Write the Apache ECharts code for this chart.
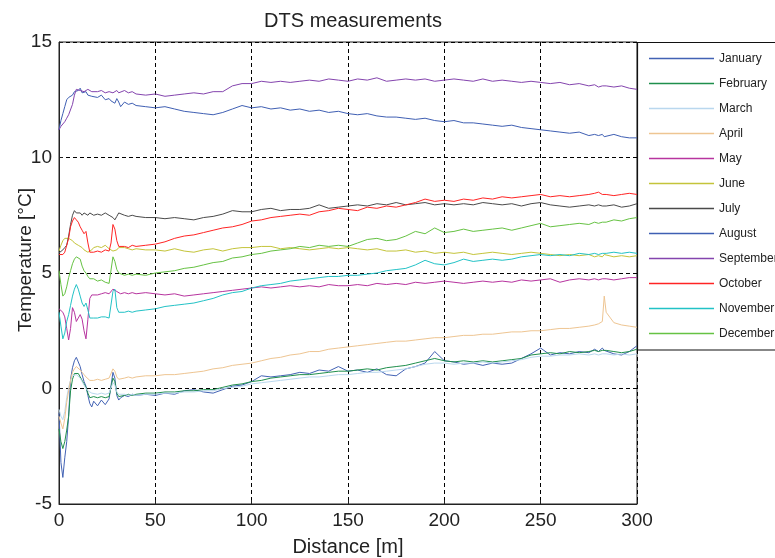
<!DOCTYPE html>
<html><head><meta charset="utf-8">
<script src="https://cdn.jsdelivr.net/npm/echarts@6/dist/echarts.min.js"></script>
<style>html,body{margin:0;padding:0;background:#fff}#c{width:775px;height:558px}</style>
</head><body><div id="c"></div>
<script>
// Distance along the cable [m]
const distance = [0,1,2,3,4,5,6,7,8,9,10,11,12,13,14,15,16,17,18,
  20,22,24,26,27,28,29,30,31,32,34,36,38,40,
  45,50,55,60,65,70,75,80,85,90,95,100,105,110,115,120,
  125,130,135,140,145,150,155,160,165,170,175,180,185,190,195,200,
  205,210,215,220,225,230,235,240,245,250,255,260,265,270,275,
  278,280,282,283,284,288,292,296,300];

const months = ['January','February','March','April','May','June','July','August','September','October','November','December'];
const monthColors = ['#4262b4','#1f8f4c','#b9d7ee','#eec592','#b7349f','#c4c43a','#4a4a4a','#3f5fb3','#8444ae','#ff2424','#22c2c6','#66c243'];

const january = [-1.05,-3.2,-3.85,-3.0,-2.3,-1.2,0.4,0.9,1.2,1.35,1.15,0.95,0.6,0.3,0.1,-0.3,-0.65,-0.8,-0.55,
  -0.75,-0.5,-0.7,-0.45,-0.4,0.7,0.45,-0.3,-0.5,-0.4,-0.3,-0.35,-0.25,-0.3,
  -0.25,-0.3,-0.2,-0.25,-0.1,-0.05,-0.15,-0.2,-0.05,0.1,0.15,0.3,0.55,0.5,0.55,0.6,
  0.7,0.65,0.8,0.75,0.95,0.75,0.8,0.7,0.85,0.6,0.55,0.85,0.95,1.1,1.6,1.2,
  1.15,1.05,1.1,1.0,1.1,1.05,1.1,1.3,1.5,1.75,1.45,1.55,1.5,1.6,1.55,
  1.7,1.6,1.75,1.65,1.7,1.5,1.45,1.6,1.85];
const february = [-1.75,-2.3,-2.6,-2.3,-1.8,-1.2,-0.1,0.4,0.65,0.7,0.65,0.6,0.35,0.2,0.05,-0.2,-0.4,-0.45,-0.35,
  -0.4,-0.35,-0.4,-0.35,-0.3,0.45,0.3,-0.2,-0.35,-0.3,-0.3,-0.25,-0.3,-0.25,
  -0.2,-0.2,-0.15,-0.15,-0.1,-0.1,-0.05,-0.05,0.05,0.15,0.2,0.3,0.35,0.45,0.5,0.55,
  0.6,0.6,0.65,0.7,0.75,0.75,0.8,0.85,0.8,0.9,0.95,1.0,1.1,1.2,1.3,1.2,
  1.15,1.2,1.15,1.2,1.15,1.2,1.25,1.3,1.45,1.5,1.55,1.5,1.6,1.55,1.6,
  1.65,1.6,1.65,1.6,1.65,1.6,1.55,1.6,1.7];
const march = [-0.9,-1.2,-1.35,-1.0,-0.4,0.05,0.35,0.55,0.6,0.6,0.55,0.45,0.3,0.15,0.0,-0.1,-0.15,-0.2,-0.2,
  -0.25,-0.2,-0.25,-0.2,-0.2,0.25,0.15,-0.15,-0.25,-0.25,-0.25,-0.3,-0.25,-0.3,
  -0.25,-0.25,-0.2,-0.2,-0.15,-0.15,-0.1,-0.1,0.0,0.05,0.1,0.2,0.25,0.3,0.35,0.4,
  0.45,0.5,0.5,0.55,0.6,0.6,0.65,0.7,0.7,0.75,0.8,0.85,0.95,1.05,1.1,1.1,
  1.05,1.1,1.1,1.15,1.1,1.15,1.2,1.25,1.35,1.4,1.4,1.45,1.45,1.5,1.45,
  1.5,1.45,1.5,1.45,1.5,1.45,1.5,1.45,1.5];
const april = [-1.2,-1.5,-1.75,-1.3,-0.6,-0.1,0.35,0.7,0.85,0.95,0.95,0.8,0.7,0.6,0.5,0.45,0.35,0.3,0.35,
  0.4,0.35,0.4,0.45,0.5,0.85,0.75,0.5,0.4,0.45,0.45,0.5,0.45,0.5,
  0.55,0.55,0.6,0.6,0.65,0.7,0.75,0.85,0.9,1.0,1.05,1.1,1.2,1.3,1.35,1.45,
  1.5,1.6,1.6,1.7,1.75,1.8,1.85,1.9,1.95,2.0,2.05,2.05,2.1,2.15,2.2,2.2,
  2.25,2.3,2.3,2.35,2.35,2.4,2.45,2.45,2.5,2.5,2.55,2.6,2.6,2.65,2.7,
  2.75,2.8,2.9,4.0,3.3,2.85,2.75,2.7,2.65];
const may = [3.45,3.4,3.3,3.1,2.6,2.1,2.6,3.5,3.3,2.9,2.85,3.2,3.0,2.5,2.15,3.0,3.9,4.05,4.0,
  4.05,4.1,4.15,4.1,4.15,4.3,4.25,4.2,4.15,4.1,4.15,4.1,4.15,4.1,
  4.15,4.1,4.05,4.1,4.0,4.05,4.1,4.15,4.2,4.25,4.3,4.35,4.4,4.35,4.4,4.45,
  4.4,4.45,4.4,4.5,4.45,4.45,4.5,4.45,4.55,4.5,4.55,4.5,4.6,4.55,4.6,4.65,
  4.6,4.55,4.6,4.65,4.6,4.65,4.6,4.7,4.65,4.7,4.75,4.6,4.7,4.75,4.7,
  4.75,4.7,4.75,4.7,4.75,4.7,4.75,4.8,4.8];
const june = [5.95,6.2,6.4,6.5,6.55,6.5,6.5,6.4,6.3,6.25,6.2,6.15,6.1,6.0,5.95,5.9,5.9,6.0,6.1,
  6.15,6.1,6.2,6.05,6.0,5.95,5.95,6.0,6.1,6.05,6.1,6.05,6.0,6.05,
  6.0,6.0,5.95,6.05,5.95,5.9,6.0,6.05,5.95,6.05,6.1,6.1,6.15,6.15,6.05,6.1,
  6.05,6.0,6.05,6.1,6.05,6.1,6.05,6.0,6.05,5.95,5.95,6.0,5.9,5.95,5.85,5.9,
  5.85,5.9,5.8,5.85,5.9,5.85,5.8,5.85,5.9,5.85,5.8,5.75,5.8,5.75,5.8,
  5.7,5.75,5.7,5.8,5.75,5.7,5.75,5.7,5.75];
const july = [5.87,5.95,6.0,6.1,6.2,6.6,7.1,7.5,7.7,7.6,7.55,7.6,7.5,7.6,7.55,7.5,7.6,7.55,7.5,
  7.55,7.5,7.6,7.5,7.45,7.4,7.3,7.45,7.6,7.55,7.5,7.45,7.5,7.45,
  7.4,7.4,7.35,7.4,7.35,7.3,7.4,7.45,7.55,7.7,7.65,7.65,7.75,7.8,7.7,7.75,
  7.75,7.8,7.95,7.8,7.85,7.9,7.95,7.9,8.0,7.95,8.05,7.95,8.0,8.05,7.95,8.0,
  7.95,8.0,7.95,8.05,8.0,7.95,8.0,7.9,8.0,8.05,7.95,7.9,7.85,7.9,7.95,
  7.9,7.95,7.9,7.95,7.9,7.95,7.85,7.9,8.0];
const august = [11.2,11.6,11.9,12.2,12.5,12.6,12.55,12.7,12.85,12.8,12.9,13.0,12.8,12.75,12.85,12.7,12.75,12.65,12.7,
  12.6,12.7,12.5,12.55,12.45,12.5,12.35,12.55,12.4,12.2,12.4,12.3,12.35,12.25,
  12.2,12.15,12.2,12.1,12.0,11.95,11.9,11.85,11.95,12.1,12.25,12.15,12.2,12.1,12.15,12.05,
  12.1,12.0,12.05,11.95,12.0,11.9,11.85,11.9,11.8,11.75,11.75,11.7,11.65,11.7,11.6,11.55,
  11.6,11.5,11.5,11.45,11.4,11.35,11.4,11.3,11.25,11.2,11.15,11.1,11.05,11.1,10.95,
  11.0,10.95,11.0,10.9,10.95,11.0,10.9,10.85,10.85];
const september = [11.2,11.35,11.45,11.55,11.7,11.85,11.9,12.3,12.7,12.95,12.95,12.9,12.95,12.85,12.9,12.95,12.9,12.85,12.9,
  12.85,12.9,12.8,12.85,12.9,12.8,12.85,12.9,12.8,12.85,12.9,12.8,12.85,12.75,
  12.7,12.75,12.65,12.7,12.75,12.8,12.75,12.85,12.85,13.1,13.2,13.2,13.3,13.25,13.3,13.25,
  13.3,13.35,13.3,13.4,13.35,13.3,13.4,13.35,13.45,13.3,13.35,13.4,13.35,13.4,13.3,13.35,
  13.4,13.35,13.3,13.4,13.3,13.35,13.3,13.25,13.3,13.25,13.2,13.25,13.15,13.2,13.1,
  13.15,13.05,13.1,13.05,13.1,13.05,13.1,13.0,12.95];
const october = [5.8,5.85,5.8,5.9,5.9,6.5,7.0,7.25,7.4,7.3,7.2,7.0,6.85,6.7,6.8,6.3,5.9,5.85,5.9,
  5.95,5.9,6.0,5.95,6.3,7.1,6.9,6.4,6.15,6.1,6.15,6.1,6.2,6.15,
  6.2,6.25,6.35,6.5,6.6,6.65,6.75,6.85,6.95,7.0,7.1,7.25,7.3,7.4,7.45,7.5,
  7.55,7.5,7.65,7.7,7.8,7.75,7.7,7.85,7.8,7.9,7.85,7.95,8.05,8.2,8.1,8.15,
  8.1,8.2,8.15,8.25,8.2,8.3,8.25,8.3,8.35,8.4,8.3,8.35,8.3,8.35,8.4,
  8.45,8.5,8.4,8.45,8.4,8.35,8.4,8.45,8.4];
const november = [3.3,2.7,2.15,2.4,2.9,3.2,3.6,4.0,4.3,4.5,4.3,4.0,3.7,3.55,3.7,3.4,3.05,3.0,3.05,
  3.05,3.1,3.1,3.05,3.1,4.2,4.3,3.5,3.3,3.3,3.3,3.35,3.3,3.35,
  3.4,3.45,3.55,3.6,3.65,3.7,3.8,3.9,4.05,4.15,4.2,4.35,4.45,4.5,4.55,4.65,
  4.7,4.75,4.8,4.85,4.85,4.9,4.9,4.95,5.0,5.1,5.15,5.2,5.35,5.55,5.4,5.35,
  5.45,5.6,5.5,5.55,5.6,5.55,5.6,5.7,5.75,5.8,5.75,5.8,5.75,5.85,5.8,
  5.85,5.8,5.85,5.8,5.85,5.9,5.85,5.9,5.85];
const december = [5.1,4.5,4.0,4.1,4.4,4.8,5.1,5.4,5.6,5.7,5.75,5.6,5.3,5.1,5.0,4.85,4.75,4.7,4.75,
  4.65,4.7,4.6,4.55,4.6,5.7,5.5,5.15,5.0,4.95,4.9,4.95,4.9,4.95,
  4.9,5.0,5.05,5.1,5.2,5.25,5.35,5.45,5.5,5.65,5.7,5.8,5.85,5.95,6.0,6.05,
  6.15,6.1,6.2,6.15,6.2,6.15,6.3,6.45,6.5,6.4,6.45,6.6,6.8,6.7,6.95,6.75,
  6.8,6.9,6.8,6.85,6.9,6.95,6.85,6.95,7.05,7.15,7.0,7.05,7.1,7.15,7.1,
  7.2,7.15,7.2,7.25,7.2,7.3,7.25,7.35,7.4];

const monthValues = [january,february,march,april,may,june,july,august,september,october,november,december];

const xMin = 0, xMax = 300, xStep = 50;
const yMin = -5, yMax = 15, yStep = 5;

const FONT = '"Liberation Sans", Arial, sans-serif';
const chart = echarts.init(document.getElementById('c'), null, {renderer: 'canvas'});

const series = months.map((m, k) => ({
  name: m,
  type: 'line',
  symbol: 'none',
  animation: false,
  lineStyle: {width: 1, color: monthColors[k]},
  itemStyle: {color: monthColors[k]},
  data: distance.map((d, i) => [d, monthValues[k][i]])
}));

chart.setOption({
  backgroundColor: '#fff',
  animation: false,
  title: {
    text: 'DTS measurements',
    left: 348, top: 6, textAlign: 'center',
    textStyle: {fontFamily: FONT, fontSize: 20, fontWeight: 'normal', color: '#222'}
  },
  grid: {left: 59, right: 138, top: 42, bottom: 54, containLabel: false, outerBoundsMode: 'none',
    show: true, borderColor: '#222', borderWidth: 1, backgroundColor: 'transparent'},
  xAxis: {
    type: 'value', min: xMin, max: xMax, interval: xStep,
    name: 'Distance [m]', nameLocation: 'middle', nameGap: 33, nameMoveOverlap: false,
    nameTextStyle: {fontFamily: FONT, fontSize: 20, color: '#222'},
    axisLine: {show: true, onZero: false, lineStyle: {color: '#222', width: 1}},
    axisTick: {show: true, inside: true, length: 4, lineStyle: {color: '#222'}},
    axisLabel: {fontFamily: FONT, fontSize: 19, color: '#222', margin: 7},
    splitLine: {show: true, lineStyle: {color: '#000', type: [4, 3], width: 1}}
  },
  yAxis: {
    type: 'value', min: yMin, max: yMax, interval: yStep,
    name: 'Temperature [°C]', nameLocation: 'middle', nameGap: 24, nameMoveOverlap: false,
    nameTextStyle: {fontFamily: FONT, fontSize: 19, color: '#222', padding: [0, 0, 0, 26]},
    axisLine: {show: true, onZero: false, lineStyle: {color: '#222', width: 1}},
    axisTick: {show: true, inside: true, length: 4, lineStyle: {color: '#222'}},
    axisLabel: {fontFamily: FONT, fontSize: 19, color: '#222', margin: 7},
    splitLine: {show: true, lineStyle: {color: '#000', type: [4, 3], width: 1}}
  },
  legend: {
    data: months,
    orient: 'vertical',
    left: 649, top: 46,
    padding: 0,
    itemGap: 0,
    itemWidth: 65, itemHeight: 1.5,
    icon: 'rect',
    selectedMode: false,
    z: 10,
    textStyle: {fontFamily: FONT, fontSize: 12, color: '#222', lineHeight: 25}
  },
  graphic: [{
    type: 'rect', z: 1, silent: true,
    shape: {x: 637.5, y: 42.5, width: 160, height: 307.5},
    style: {fill: '#fff', stroke: '#111', lineWidth: 1.2}
  }],
  series: series
});
</script>
</body></html>
